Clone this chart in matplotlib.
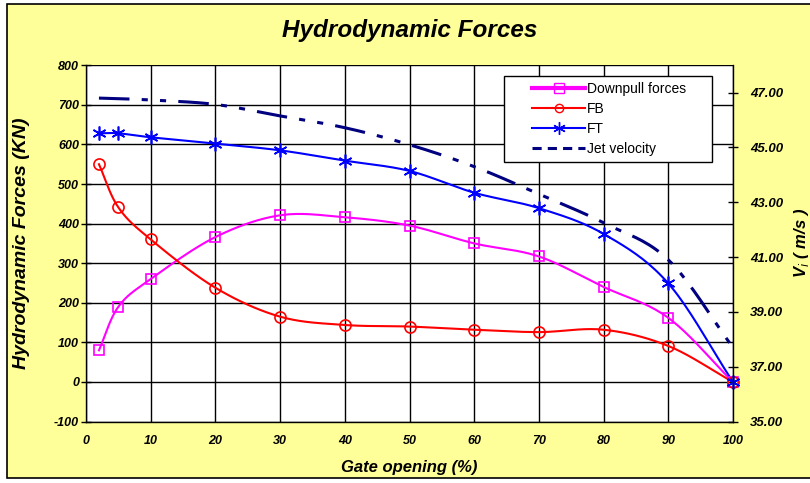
import numpy as np
import matplotlib
matplotlib.use("Agg")
import matplotlib.pyplot as plt
from matplotlib.lines import Line2D
from matplotlib.patches import Rectangle
from matplotlib.legend_handler import HandlerLine2D

plt.rcParams['font.family'] = ['Liberation Sans', 'DejaVu Sans']
plt.rcParams['axes.unicode_minus'] = False

gate = [2, 5, 10, 20, 30, 40, 50, 60, 70, 80, 90, 100]
downpull = [80, 190, 260, 366, 421, 416, 395, 350, 317, 240, 162, 0]
fb = [550, 441, 360, 238, 165, 144, 140, 132, 126, 132, 91, 0]
ft = [628, 628, 618, 602, 585, 559, 533, 478, 439, 374, 249, 0]
jet_gate = [2, 5, 10, 20, 30, 40, 50, 60, 70, 80, 90, 100]
jet_v = [46.8, 46.78, 46.73, 46.57, 46.15, 45.72, 45.1, 44.3, 43.3, 42.25, 40.9, 37.7]

x_ticks = list(range(0, 101, 10))
left_ticks = list(range(-100, 801, 100))
right_ticks = [35, 37, 39, 41, 43, 45, 47]


def smooth(xs, ys, n=20):
    # catmull-rom style path through the points, like excel's smoothed line
    xs = np.asarray(xs, float)
    ys = np.asarray(ys, float)
    px = np.concatenate([[2 * xs[0] - xs[1]], xs, [2 * xs[-1] - xs[-2]]])
    py = np.concatenate([[2 * ys[0] - ys[1]], ys, [2 * ys[-1] - ys[-2]]])
    ox, oy = [], []
    t = np.linspace(0, 1, n, endpoint=False)
    for i in range(1, len(px) - 2):
        for p, o in ((px, ox), (py, oy)):
            p0, p1, p2, p3 = p[i - 1], p[i], p[i + 1], p[i + 2]
            o.extend(0.5 * (2 * p1 + (-p0 + p2) * t + (2 * p0 - 5 * p1 + 4 * p2 - p3) * t ** 2
                            + (-p0 + 3 * p1 - 3 * p2 + p3) * t ** 3))
    ox.append(xs[-1])
    oy.append(ys[-1])
    return np.array(ox), np.array(oy)


fig = plt.figure(figsize=(8.1, 4.83), dpi=100)
fig.patch.set_facecolor('white')
fig.patches.append(Rectangle((7 / 810, 5 / 483), 810, 474 / 483, transform=fig.transFigure,
                             facecolor='#FFFF99', edgecolor='black', lw=1.2, zorder=-5))

ax = fig.add_axes([86 / 810, 61.4 / 483, 647 / 810, 356.4 / 483])
ax.set_facecolor('white')
ax2 = ax.twinx()

bi = dict(fontweight='bold', fontstyle='italic')

ax.set_xlim(0, 100)
ax.set_ylim(-100, 800)
ax.set_xticks(x_ticks)
ax.set_yticks(left_ticks)
ax.grid(True, color='black', lw=1.0)
ax.set_axisbelow(True)
ax2.set_ylim(35, 48)
ax2.set_yticks(right_ticks)
ax2.set_yticklabels(['%.2f' % v for v in right_ticks])

for a in (ax, ax2):
    for s in a.spines.values():
        s.set_visible(False)
ax.spines['left'].set_visible(True)
ax.spines['bottom'].set_visible(True)
ax2.spines['right'].set_visible(True)
for s in (ax.spines['left'], ax.spines['bottom'], ax2.spines['right']):
    s.set_linewidth(1.0)

ax.tick_params(axis='both', direction='inout', length=7, width=1, labelsize=9, pad=1.5)
ax.tick_params(axis='x', length=0, pad=10)
ax2.tick_params(axis='y', direction='inout', length=7, width=1, labelsize=9.5, pad=9)
for lab in ax.get_xticklabels() + ax.get_yticklabels() + ax2.get_yticklabels():
    lab.set_fontweight('bold')
    lab.set_fontstyle('italic')

# force lines
for ys, col, mk, ms in ((downpull, '#FF00FF', 's', 7), (fb, '#FF0000', 'o', 8), (ft, '#0000FF', (6, 2, 0), 10)):
    sx, sy = smooth(gate, ys)
    ax.plot(sx, sy, color=col, lw=1.5, zorder=3, clip_on=False)
    ax.plot(gate, ys, linestyle='none', marker=mk, ms=ms, mfc='none', mec=col, mew=1.2, zorder=4, clip_on=False)

jx, jy = smooth(jet_gate, jet_v)
ax2.plot(jx, jy, color='#000080', lw=2.2, dashes=(10, 4, 2, 4, 2, 4), zorder=3)

ax.set_title('Hydrodynamic Forces', fontsize=17.5, pad=20, **bi)
ax.set_xlabel('Gate opening (%)', fontsize=12, labelpad=9, **bi)
ax.set_ylabel('Hydrodynamic Forces (KN)', fontsize=14, **bi)
ax.yaxis.set_label_coords(-0.086, 0.5)
ax2.set_ylabel('V$_i$ ( m/s )', fontsize=12, labelpad=6, **bi)

handles = [
    Line2D([], [], color='#FF00FF', lw=3, marker='s', ms=7, mfc='none', mec='#FF00FF'),
    Line2D([], [], color='#FF0000', lw=1.5, marker='o', ms=6, mfc='none', mec='#FF0000'),
    Line2D([], [], color='#0000FF', lw=1.5, marker=(6, 2, 0), ms=9, mec='#0000FF'),
    Line2D([], [], color='#000080', lw=2.2, dashes=(3, 2)),
]
leg = ax2.legend(handles, ['Downpull forces     ', 'FB', 'FT', 'Jet velocity'],
                 loc='upper right', bbox_to_anchor=(0.972, 0.978), fontsize=10,
                 frameon=True, fancybox=False, edgecolor='black', framealpha=1,
                 handlelength=5.4, handletextpad=0.15, borderpad=0.45, labelspacing=0.42,
                 borderaxespad=0.2, handler_map={Line2D: HandlerLine2D(xpad=1.6)})
leg.get_frame().set_linewidth(1.0)

fig.savefig('out.png', dpi=100, facecolor=fig.get_facecolor())
